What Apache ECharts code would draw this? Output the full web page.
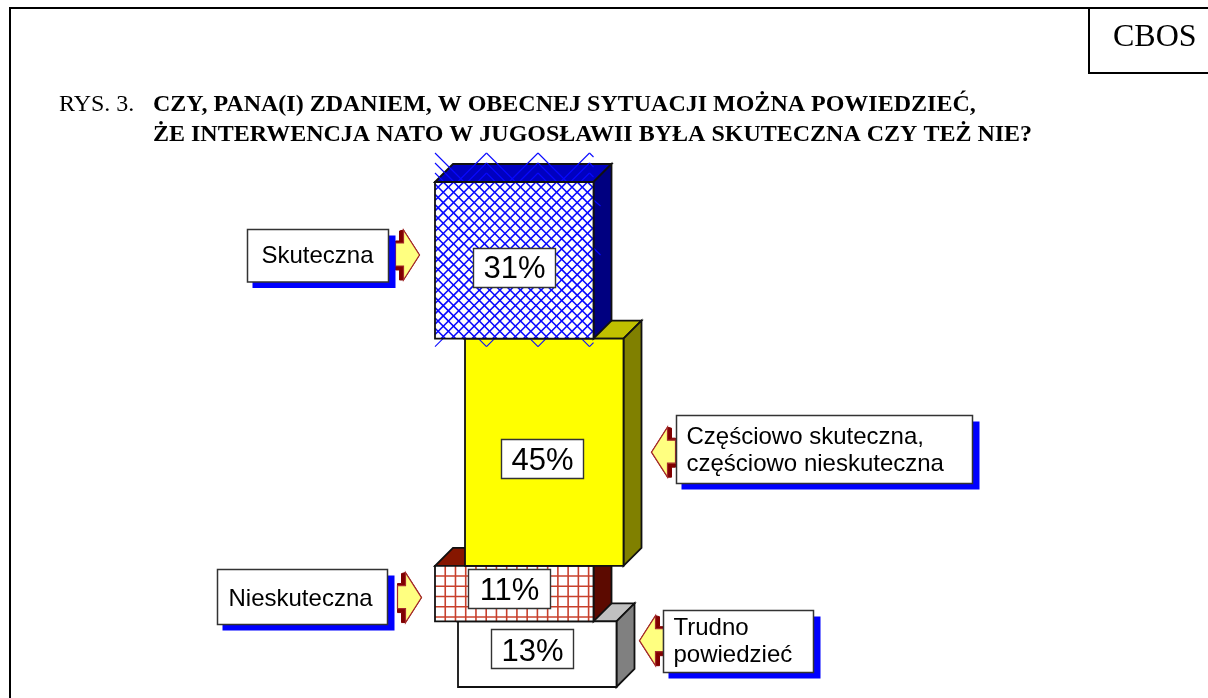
<!DOCTYPE html>
<html><head><meta charset="utf-8">
<style>html,body{margin:0;padding:0;background:#fff}#c{width:1208px;height:698px}</style>
<script src="https://cdn.jsdelivr.net/npm/echarts@6/dist/echarts.min.js"></script></head>
<body><div id="c"></div>
<script>
// ---- data ----
var categories = ['Skuteczna', 'Częściowo skuteczna,\nczęściowo nieskuteczna', 'Nieskuteczna', 'Trudno\npowiedzieć'];
var shares = [31, 45, 11, 13];
var tagLabels = ['31%', '45%', '11%', '13%'];
var figureNo = 'RYS. 3.';
var titleLines = ['CZY, PANA(I) ZDANIEM, W OBECNEJ SYTUACJI MOŻNA POWIEDZIEĆ,', 'ŻE INTERWENCJA NATO W JUGOSŁAWII BYŁA SKUTECZNA CZY TEŻ NIE?'];
var source = 'CBOS';

// ---- layout / style (separate from the data) ----
var GRID = {left: 0, top: 182, width: 1208, height: 505};
var barLeft = [435, 465, 435, 458];
var barWidth = 158.5;
var DEPTH = 18;
var faces = [
  {front: '#ffffff', top: '#0000c0', side: '#000080', hatch: 'cross', line: '#0808ff'},
  {front: '#ffff00', top: '#c0c000', side: '#808000'},
  {front: '#ffffff', top: '#861600', side: '#5c0a00', hatch: 'grid', line: '#c8402c'},
  {front: '#ffffff', top: '#c0c0c0', side: '#808080'}
];
// tag box relative to the front-face centre
var tagOffset = [[-41, -12], [-43, -13], [-46, -25], [-46, -25]];
var tagTextNudge = [1.5, 2, 2.5, 3];
var TAG_W = 82, TAG_H = 39;
// callouts relative to the front-face centre
var callouts = [
  {dir: 1,  boxDx: -267.5, boxDy: -30.8, w: 141, h: 52.5, textDx: 14, textDy: 1, tipGap: 31, arrowDy: -5.3},
  {dir: -1, boxDx: 132,    boxDy: -37,   w: 296, h: 68,   textDx: 10, textDy: 1, tipGap: 25, arrowDy: 0},
  {dir: 1,  boxDx: -297,   boxDy: -25,   w: 170, h: 55,   textDx: 11, textDy: 2, tipGap: 34, arrowDy: 4},
  {dir: -1, boxDx: 126,    boxDy: -44.5, w: 150, h: 62,   textDx: 10, textDy: 0, tipGap: 24, arrowDy: -13.5}
];
var SANS = '"Liberation Sans", Arial, sans-serif';
var SERIF = '"Liberation Serif", "Times New Roman", serif';

// running totals: each row is [index, start, end]
var rows = [], run = 0;
shares.forEach(function (v, i) { rows.push([i, run, run + v]); run += v; });

function seg(x1, y1, x2, y2, stroke, w) {
  return {type: 'line', silent: true, shape: {x1: x1, y1: y1, x2: x2, y2: y2}, style: {stroke: stroke, lineWidth: w || 1.6}};
}
function poly(points, fill, stroke, w) {
  return {type: 'polygon', silent: true, shape: {points: points}, style: {fill: fill, stroke: stroke || null, lineWidth: w || 1.8}};
}
function crossHatch(x, y, w, h, color) {
  var out = [], step = 10.3, c;
  for (c = -h; c < w + h; c += step) {
    var a1 = Math.max(0, -c), a2 = Math.min(h, w - c);
    if (a2 > a1) out.push(seg(x + c + a1, y + a1, x + c + a2, y + a2, color));
    var b1 = Math.max(0, c - w), b2 = Math.min(h, c);
    if (b2 > b1) out.push(seg(x + c - b1, y + b1, x + c - b2, y + b2, color));
  }
  // coarse tile overflow beyond the outline, stops at the front face's right edge
  var tile = 51.5, peak, k;
  for (k = 0; k < 3; k++) {
    var rise = 29 - k * 10;
    out.push(seg(x, y - rise, x + rise, y, color, 1.1));
    for (peak = x + tile; peak < x + w; peak += tile) {
      out.push(seg(peak - rise, y, peak, y - rise, color, 1.1));
      var run2 = Math.min(rise, x + w - peak);
      out.push(seg(peak, y - rise, peak + run2, y - rise + run2, color, 1.1));
    }
  }
  out.push(seg(x, y + h + 8, x + 8, y + h, color, 1.1));
  for (peak = x + tile; peak < x + w; peak += tile) {
    out.push(seg(peak - 8, y + h, peak, y + h + 8, color, 1.1));
    var run3 = Math.min(8, x + w - peak);
    out.push(seg(peak, y + h + 8, peak + run3, y + h + 8 - run3, color, 1.1));
  }
  out.push(seg(x + w, y + 18, x + w + 7, y + 24, color, 1.1));
  out.push(seg(x + w, y + 66, x + w + 7, y + 73, color, 1.1));
  return out;
}
function gridHatch(x, y, w, h, color) {
  var out = [], step = 10.24, p;
  for (p = x + step; p < x + w; p += step) out.push(seg(p, y, p, y + h, color));
  for (p = y + step; p < y + h; p += step) out.push(seg(x, p, x + w, p, color));
  return out;
}
function renderBar(params, api) {
  var i = api.value(0);
  var a = api.coord([barLeft[i], api.value(1)]);
  var b = api.coord([barLeft[i] + barWidth, api.value(2)]);
  var x = a[0], y = a[1], w = b[0] - a[0], h = b[1] - a[1], d = DEPTH, f = faces[i];
  var kids = [
    poly([[x, y], [x + d, y - d], [x + w + d, y - d], [x + w, y]], f.top, '#111'),
    poly([[x + w, y], [x + w + d, y - d], [x + w + d, y + h - d], [x + w, y + h]], f.side, '#111'),
    {type: 'rect', silent: true, shape: {x: x, y: y, width: w, height: h}, style: {fill: f.front, stroke: null}}
  ];
  if (f.hatch === 'cross') kids = kids.concat(crossHatch(x, y, w, h, f.line));
  if (f.hatch === 'grid') kids = kids.concat(gridHatch(x, y, w, h, f.line));
  kids.push({type: 'rect', silent: true, shape: {x: x, y: y, width: w, height: h}, style: {fill: null, stroke: '#111', lineWidth: 1.8}});
  var cx = x + w / 2, cy = y + h / 2, o = tagOffset[i];
  var tx = Math.round(cx + o[0]) + .5, ty = Math.round(cy + o[1]) + .5;
  kids.push({type: 'rect', silent: true, shape: {x: tx, y: ty, width: TAG_W, height: TAG_H},
    style: {fill: '#fff', stroke: '#333', lineWidth: 1.4}});
  kids.push({type: 'text', silent: true, style: {x: tx + TAG_W / 2, y: ty + TAG_H / 2 + tagTextNudge[i], text: tagLabels[i], align: 'center', verticalAlign: 'middle',
    font: '31px ' + SANS, fill: '#000'}});
  return {type: 'group', children: kids};
}
function arrowShapes(tip, cy, dir) {
  var s = dir, base = tip - s * 16, tail = tip - s * 24;
  var dark = [[tail, cy - 14], [base - s * 4, cy - 14], [base - s * 4, cy - 24], [base, cy - 25], [tip, cy], [base, cy + 25], [base - s * 4, cy + 25], [base - s * 4, cy + 15], [tail, cy + 15]];
  var light = [[tail, cy - 12], [base, cy - 12], [base, cy - 25], [tip, cy], [base, cy + 25], [base, cy + 11], [tail, cy + 11]];
  return [poly(dark, '#800000', '#800000', 1), poly(light, '#ffff80', '#a52a2a', 1.2)];
}
function renderCallout(params, api) {
  var i = api.value(0), c = callouts[i];
  var a = api.coord([barLeft[i], api.value(1)]);
  var b = api.coord([barLeft[i] + barWidth, api.value(2)]);
  var cx = (a[0] + b[0]) / 2, cy = (a[1] + b[1]) / 2;
  var bx = Math.round(cx + c.boxDx) + .5, by = Math.round(cy + c.boxDy) + .5;
  var tip = c.dir > 0 ? bx + c.w + c.tipGap : bx - c.tipGap;
  var kids = arrowShapes(tip, cy + c.arrowDy, c.dir);
  kids.push({type: 'rect', silent: true, shape: {x: bx + 5, y: by + 6, width: c.w + 2, height: c.h}, style: {fill: '#0000ff', stroke: null}});
  kids.push({type: 'rect', silent: true, shape: {x: bx, y: by, width: c.w, height: c.h}, style: {fill: '#fff', stroke: '#333', lineWidth: 1.5}});
  kids.push({type: 'text', silent: true, style: {x: bx + c.textDx, y: by + c.h / 2 + c.textDy, text: categories[i], align: 'left', verticalAlign: 'middle',
    font: '24px ' + SANS, lineHeight: 27, fill: '#000'}});
  return {type: 'group', children: kids};
}

var chart = echarts.init(document.getElementById('c'), null, {renderer: 'canvas'});
chart.setOption({
  animation: false,
  backgroundColor: '#fff',
  title: [
    {text: figureNo, left: 59, top: 93, textStyle: {fontFamily: SERIF, fontSize: 24, fontWeight: 'normal', color: '#000'}, padding: 0},
    {text: titleLines[0], left: 153, top: 93, textStyle: {fontFamily: SERIF, fontSize: 24, fontWeight: 'bold', color: '#000'}, padding: 0},
    {text: titleLines[1], left: 153, top: 123, textStyle: {fontFamily: SERIF, fontSize: 24, fontWeight: 'bold', color: '#000'}, padding: 0},
    {text: source, left: 1113, top: 22, textStyle: {fontFamily: SERIF, fontSize: 32, fontWeight: 'normal', color: '#000'}, padding: 0}
  ],
  graphic: [
    {type: 'polyline', silent: true, shape: {points: [[10, 698], [10, 8], [1208, 8]]}, style: {stroke: '#000', lineWidth: 2, fill: null}},
    {type: 'polyline', silent: true, shape: {points: [[1089, 8], [1089, 73], [1208, 73]]}, style: {stroke: '#000', lineWidth: 2, fill: null}}
  ],
  grid: GRID,
  xAxis: {type: 'value', min: 0, max: 1208, show: false},
  yAxis: {type: 'value', min: 0, max: 100, inverse: true, show: false},
  series: [
    {type: 'custom', name: 'bars', coordinateSystem: 'cartesian2d', clip: false, silent: true,
     data: rows.slice().reverse(), encode: {x: 0, y: 1}, renderItem: renderBar, z: 2},
    {type: 'custom', name: 'callouts', coordinateSystem: 'cartesian2d', clip: false, silent: true,
     data: rows, encode: {x: 0, y: 1}, renderItem: renderCallout, z: 3}
  ]
});
</script></body></html>
